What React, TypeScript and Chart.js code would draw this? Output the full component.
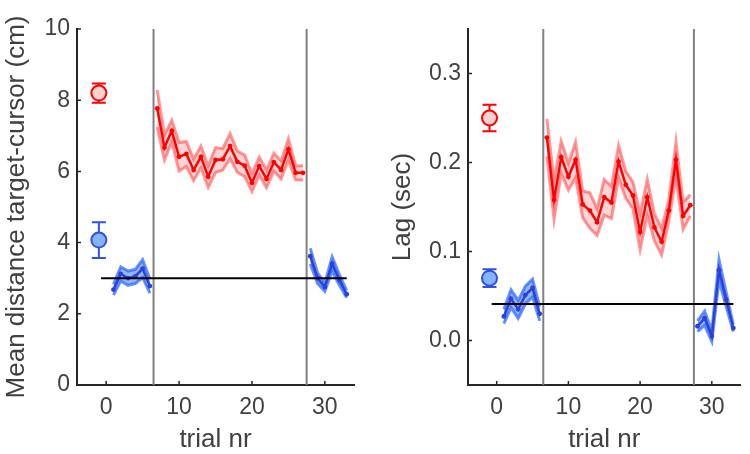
import React, { useEffect, useRef } from "react";
import { Chart, registerables } from "chart.js";
Chart.register(...registerables);

const FONT = '"Liberation Sans", Arial, Helvetica, sans-serif';

// trial numbers for each phase
const trialsBaseline = [1, 2, 3, 4, 5, 6];
const trialsPerturb = [7, 8, 9, 10, 11, 12, 13, 14, 15, 16, 17, 18, 19, 20, 21, 22, 23, 24, 25, 26, 27];
const trialsWashout = [28, 29, 30, 31, 32, 33];
const phaseBoundaries = [6.5, 27.5];
const refLineX = [-0.7, 33];
const summaryX = [-1];
const xTicks = [0, 10, 20, 30];

// Left panel: mean distance target-cursor (cm)
const distBaseline = [2.68, 3.12, 3.0, 3.05, 3.27, 2.78];
const distBaselineSe = [0.15, 0.2, 0.2, 0.2, 0.25, 0.2];
const distPerturb = [7.77, 6.67, 7.14, 6.41, 6.49, 6.04, 6.41, 5.85, 6.32, 6.34, 6.71, 6.27, 6.16, 5.68, 6.15, 5.79, 6.26, 6.04, 6.62, 5.96, 5.96];
const distPerturbSe = [0.52, 0.35, 0.3, 0.4, 0.35, 0.3, 0.3, 0.3, 0.35, 0.3, 0.35, 0.3, 0.3, 0.25, 0.25, 0.25, 0.25, 0.25, 0.3, 0.2, 0.2];
const distWashout = [3.62, 3.0, 2.75, 3.4, 2.95, 2.55];
const distWashoutSe = [0.22, 0.15, 0.12, 0.2, 0.15, 0.1];
const distSummaryRed = [8.2];
const distSummaryRedErr = [0.27];
const distSummaryBlue = [4.07];
const distSummaryBlueErr = [0.5];
const distRef = [3.0];
const distYTicks = [0, 2, 4, 6, 8, 10];

// Right panel: lag (sec)
const lagBaseline = [0.027, 0.047, 0.035, 0.051, 0.059, 0.03];
const lagBaselineSe = [0.008, 0.01, 0.01, 0.01, 0.01, 0.008];
const lagPerturb = [0.228, 0.158, 0.206, 0.184, 0.203, 0.153, 0.146, 0.133, 0.161, 0.155, 0.201, 0.175, 0.163, 0.122, 0.161, 0.127, 0.111, 0.146, 0.203, 0.14, 0.152];
const lagPerturbSe = [0.021, 0.022, 0.018, 0.015, 0.02, 0.015, 0.02, 0.015, 0.02, 0.018, 0.018, 0.015, 0.015, 0.02, 0.02, 0.015, 0.015, 0.012, 0.02, 0.015, 0.012];
const lagWashout = [0.016, 0.025, 0.005, 0.079, 0.046, 0.014];
const lagWashoutSe = [0.006, 0.008, 0.006, 0.012, 0.008, 0.004];
const lagSummaryRed = [0.25];
const lagSummaryRedErr = [0.015];
const lagSummaryBlue = [0.07];
const lagSummaryBlueErr = [0.01];
const lagRef = [0.041];
const lagYTicks = [0, 0.1, 0.2, 0.3];

const pts = (xs: number[], ys: number[]) => xs.map((x, i) => ({ x, y: ys[i] }));

const insideTicks = {
  id: "insideTicks",
  afterDatasetsDraw(chart: any) {
    const { ctx, chartArea, scales } = chart;
    ctx.save();
    ctx.strokeStyle = "#262626";
    ctx.lineWidth = 1.5;
    ctx.beginPath();
    for (const t of scales.x.ticks) {
      const px = scales.x.getPixelForValue(t.value);
      ctx.moveTo(px, chartArea.bottom);
      ctx.lineTo(px, chartArea.bottom - 4);
    }
    for (const t of scales.y.ticks) {
      const py = scales.y.getPixelForValue(t.value);
      ctx.moveTo(chartArea.left, py);
      ctx.lineTo(chartArea.left + 4, py);
    }
    ctx.stroke();
    ctx.restore();
  },
};

const errorBars = {
  id: "errorBars",
  beforeDatasetDraw(chart: any, args: any) {
    const ds = chart.data.datasets[args.index];
    if (!ds.errLow) return;
    const { ctx, scales } = chart;
    ctx.save();
    ctx.strokeStyle = ds.borderColor;
    ctx.lineWidth = 2;
    ds.data.forEach((p: any, i: number) => {
      const px = scales.x.getPixelForValue(p.x);
      const lo = scales.y.getPixelForValue(ds.errLow[i]);
      const hi = scales.y.getPixelForValue(ds.errHigh[i]);
      const cap = 7;
      ctx.beginPath();
      ctx.moveTo(px, lo);
      ctx.lineTo(px, hi);
      ctx.moveTo(px - cap, lo);
      ctx.lineTo(px + cap, lo);
      ctx.moveTo(px - cap, hi);
      ctx.lineTo(px + cap, hi);
      ctx.stroke();
    });
    ctx.restore();
  },
};

type PanelProps = {
  baseline: number[]; baselineSe: number[];
  perturb: number[]; perturbSe: number[];
  washout: number[]; washoutSe: number[];
  sumRed: number[]; sumRedErr: number[];
  sumBlue: number[]; sumBlueErr: number[];
  ref: number[];
  yMin: number; yMax: number; yTicks: number[];
  yTitle: string; yDecimals: number;
  yWidth: number; padRight: number; titlePad: number;
};

const RED = "#ff0000";
const RED_EDGE = "rgba(255,0,0,0.4)";
const RED_FILL = "rgba(255,0,0,0.17)";
const BLUE = "rgb(45,65,215)";
const BLUE_EDGE = "rgba(40,100,255,0.7)";
const BLUE_FILL = "rgba(40,110,255,0.5)";

function bandSets(xs: number[], ys: number[], se: number[], edge: string, fill: string, line: string, order: number) {
  return [
    { data: pts(xs, ys.map((v, i) => v + se[i])), borderColor: edge, borderWidth: 3, backgroundColor: fill, fill: "+1", pointRadius: 0, order: order + 1 },
    { data: pts(xs, ys.map((v, i) => v - se[i])), borderColor: edge, borderWidth: 3, fill: false, pointRadius: 0, order: order + 1 },
    { data: pts(xs, ys), borderColor: line, borderWidth: 2.5, pointRadius: 2.4, pointBackgroundColor: line, pointBorderWidth: 0, fill: false, order },
  ];
}

function Panel(p: PanelProps) {
  const ref = useRef<HTMLCanvasElement>(null);
  useEffect(() => {
    const datasets: any[] = [];
    for (const b of phaseBoundaries) {
      datasets.push({ data: [{ x: b, y: p.yMin }, { x: b, y: p.yMax }], borderColor: "#808080", borderWidth: 2, pointRadius: 0, fill: false, order: 20 });
    }
    datasets.push(...bandSets(trialsBaseline, p.baseline, p.baselineSe, BLUE_EDGE, BLUE_FILL, BLUE, 10));
    datasets.push(...bandSets(trialsWashout, p.washout, p.washoutSe, BLUE_EDGE, BLUE_FILL, BLUE, 10));
    datasets.push(...bandSets(trialsPerturb, p.perturb, p.perturbSe, RED_EDGE, RED_FILL, RED, 10));
    datasets.push({ data: refLineX.map((x) => ({ x, y: p.ref[0] })), borderColor: "#000000", borderWidth: 2, pointRadius: 0, fill: false, order: 5 });
    datasets.push({
      data: pts(summaryX, p.sumRed), showLine: false, borderColor: RED, pointBackgroundColor: "#ffd2d2", pointBorderColor: RED, pointBorderWidth: 2, pointRadius: 7.5,
      errLow: p.sumRed.map((v, i) => v - p.sumRedErr[i]), errHigh: p.sumRed.map((v, i) => v + p.sumRedErr[i]), order: 1,
    });
    datasets.push({
      data: pts(summaryX, p.sumBlue), showLine: false, borderColor: "rgb(50,80,225)", pointBackgroundColor: "#82b4ff", pointBorderColor: "rgb(50,80,225)", pointBorderWidth: 2, pointRadius: 7.5,
      errLow: p.sumBlue.map((v, i) => v - p.sumBlueErr[i]), errHigh: p.sumBlue.map((v, i) => v + p.sumBlueErr[i]), order: 1,
    });

    const chart = new Chart(ref.current!, {
      type: "line",
      data: { datasets },
      plugins: [insideTicks, errorBars],
      options: {
        animation: false,
        responsive: false,
        layout: { padding: { top: 29, right: p.padRight, left: 0, bottom: 0 } },
        plugins: { legend: { display: false }, tooltip: { enabled: false } },
        elements: { line: { tension: 0 } },
        scales: {
          x: {
            type: "linear", min: -4, max: 34,
            afterBuildTicks: (s: any) => { s.ticks = xTicks.map((v) => ({ value: v })); },
            afterFit: (s: any) => { s.height = 69; },
            grid: { display: false, drawTicks: false },
            border: { display: true, color: "#262626", width: 2 },
            ticks: { padding: 9, color: "#404040", font: { size: 23, family: FONT } },
            title: { display: true, text: "trial nr", color: "#404040", font: { size: 26, family: FONT }, padding: { top: 0, bottom: -1 } },
          },
          y: {
            type: "linear", min: p.yMin, max: p.yMax,
            afterBuildTicks: (s: any) => { s.ticks = p.yTicks.map((v) => ({ value: v })); },
            afterFit: (s: any) => { s.width = p.yWidth; },
            grid: { display: false, drawTicks: false },
            border: { display: true, color: "#262626", width: 2 },
            ticks: { padding: 7, color: "#404040", font: { size: 23, family: FONT }, callback: (v: any) => Number(v).toFixed(p.yDecimals) },
            title: { display: true, text: p.yTitle, color: "#404040", font: { size: 26, family: FONT }, padding: { top: p.titlePad, bottom: 0 } },
          },
        },
      } as any,
    });
    return () => chart.destroy();
  }, []);
  return <canvas ref={ref} width={375} height={454} style={{ display: "block" }} />;
}

export default function App() {
  return (
    <div style={{ position: "fixed", left: 0, top: 0, width: 750, height: 454, background: "#fff", display: "flex" }}>
      <Panel
        baseline={distBaseline} baselineSe={distBaselineSe}
        perturb={distPerturb} perturbSe={distPerturbSe}
        washout={distWashout} washoutSe={distWashoutSe}
        sumRed={distSummaryRed} sumRedErr={distSummaryRedErr}
        sumBlue={distSummaryBlue} sumBlueErr={distSummaryBlueErr}
        ref={distRef} yMin={0} yMax={10} yTicks={distYTicks}
        yTitle="Mean distance target-cursor (cm)" yDecimals={0}
        yWidth={77} padRight={21} titlePad={1}
      />
      <Panel
        baseline={lagBaseline} baselineSe={lagBaselineSe}
        perturb={lagPerturb} perturbSe={lagPerturbSe}
        washout={lagWashout} washoutSe={lagWashoutSe}
        sumRed={lagSummaryRed} sumRedErr={lagSummaryRedErr}
        sumBlue={lagSummaryBlue} sumBlueErr={lagSummaryBlueErr}
        ref={lagRef} yMin={-0.05} yMax={0.35} yTicks={lagYTicks}
        yTitle="Lag (sec)" yDecimals={1}
        yWidth={93} padRight={4} titlePad={12}
      />
    </div>
  );
}
